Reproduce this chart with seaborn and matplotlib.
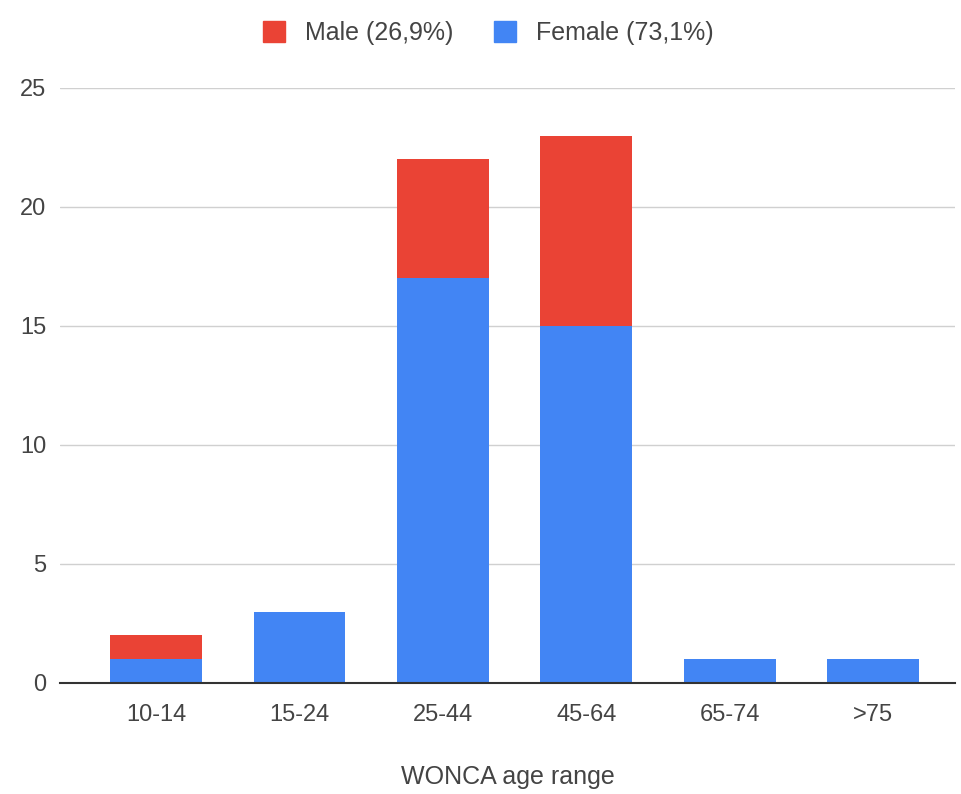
import numpy as np
import pandas as pd
import seaborn as sns
import matplotlib.pyplot as plt
from matplotlib.patches import Patch

# WONCA age ranges, stacked male / female counts
age_ranges = ["10-14", "15-24", "25-44", "45-64", "65-74", ">75"]
female = [1, 3, 17, 15, 1, 1]
male = [1, 0, 5, 8, 0, 0]

red = "#EA4335"
blue = "#4285F4"

df = pd.DataFrame({"age": age_ranges, "female": female, "male": male})
df["total"] = df["female"] + df["male"]

sns.set_style("white")
plt.rcParams["font.family"] = ["Liberation Sans", "DejaVu Sans"]

fig = plt.figure(figsize=(9.61, 7.94), dpi=100)
ax = fig.add_axes([0.0624, 0.1398, 0.9314, 0.7494])

# total first (red shows above), then female on top of it
sns.barplot(data=df, x="age", y="total", color=red, width=0.64,
            saturation=1, linewidth=0, ax=ax, zorder=2)
sns.barplot(data=df, x="age", y="female", color=blue, width=0.64,
            saturation=1, linewidth=0, ax=ax, zorder=3)

ax.set_ylim(0, 25)
ax.set_xlim(-0.67, 5.57)
ax.set_yticks([0, 5, 10, 15, 20, 25])
ax.yaxis.grid(True, color="#d0d0d0", linewidth=1)
ax.set_axisbelow(True)
for s in ["left", "right", "top"]:
    ax.spines[s].set_visible(False)
ax.spines["bottom"].set_color("#333333")
ax.spines["bottom"].set_linewidth(1.5)
ax.spines["bottom"].set_zorder(4)
ax.tick_params(axis="both", length=0, labelsize=17, labelcolor="#444444")
ax.tick_params(axis="y", pad=10)
ax.tick_params(axis="x", pad=15)
ax.set_ylabel("")
ax.set_xlabel("WONCA age range", fontsize=18, color="#444444", labelpad=28)

handles = [Patch(color=red, label="Male (26,9%)"),
           Patch(color=blue, label="Female (73,1%)")]
fig.legend(handles=handles, loc="center", bbox_to_anchor=(0.508, 0.958),
           ncol=2, frameon=False, fontsize=18, handlelength=0.9,
           handleheight=0.9, columnspacing=1.6, handletextpad=0.8,
           labelcolor="#444444")

fig.savefig("out.png", dpi=100)
